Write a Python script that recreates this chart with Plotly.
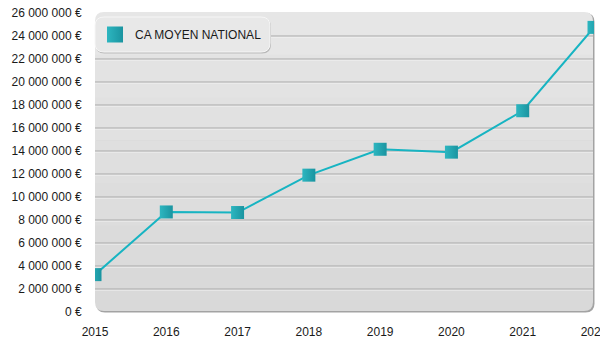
import plotly.graph_objects as go

# Average national turnover by year
years = [2015, 2016, 2017, 2018, 2019, 2020, 2021, 2022]
ca_moyen = [3_250_000, 8_700_000, 8_650_000, 11_900_000, 14_150_000, 13_900_000, 17_500_000, 24_750_000]
series_name = "CA MOYEN NATIONAL"
y_ticks = list(range(0, 26_000_001, 2_000_000))
y_tick_labels = [f"{v:,}".replace(",", " ") + " €" for v in y_ticks]
x_tick_labels = [str(y) for y in years]

W, H = 600, 350
M_L, M_R, M_T, M_B = 95, 6, 13, 38
PW, PH = W - M_L - M_R, H - M_T - M_B


def px_x(x):
    return (x - M_L) / PW


def px_y(y):
    return (H - M_B - y) / PH


def rounded_path(x0, y0, x1, y1, r, top=True, bottom=True):
    """Rounded rectangle in paper coordinates from pixel corners."""
    rt = r if top else 0
    rb = r if bottom else 0
    pts = []
    pts.append(f"M{px_x(x0 + rt)},{px_y(y0)}")
    pts.append(f"L{px_x(x1 - rt)},{px_y(y0)}")
    if rt:
        pts.append(f"Q{px_x(x1)},{px_y(y0)} {px_x(x1)},{px_y(y0 + rt)}")
    pts.append(f"L{px_x(x1)},{px_y(y1 - rb)}")
    if rb:
        pts.append(f"Q{px_x(x1)},{px_y(y1)} {px_x(x1 - rb)},{px_y(y1)}")
    pts.append(f"L{px_x(x0 + rb)},{px_y(y1)}")
    if rb:
        pts.append(f"Q{px_x(x0)},{px_y(y1)} {px_x(x0)},{px_y(y1 - rb)}")
    pts.append(f"L{px_x(x0)},{px_y(y0 + rt)}")
    if rt:
        pts.append(f"Q{px_x(x0)},{px_y(y0)} {px_x(x0 + rt)},{px_y(y0)}")
    pts.append("Z")
    return " ".join(pts)


shapes = []

# plot panel: soft shadow then a vertical grey gradient built from bands
PX0, PY0, PX1, PY1 = M_L, M_T - 1, M_L + PW - 1, H - M_B - 1
shapes.append(dict(type="path", xref="paper", yref="paper", layer="below",
                   path=rounded_path(PX0 + 1, PY0 + 1, PX1 + 1.5, PY1 + 1.5, 9),
                   fillcolor="#a3a3a3", line=dict(width=0)))
band_cols = ["#e6e6e6", "#e3e3e3", "#e1e1e1", "#dfdfdf", "#dddddd", "#dbdbdb", "#d9d9d9"]
nb = len(band_cols)
bh = (PY1 - PY0) / nb
for i, c in enumerate(band_cols):
    y0 = PY0 + i * bh
    y1 = PY0 + (i + 1) * bh + (0.6 if i < nb - 1 else 0)
    shapes.append(dict(type="path", xref="paper", yref="paper", layer="below",
                       path=rounded_path(PX0, y0, PX1, y1, 9, top=(i == 0), bottom=(i == nb - 1)),
                       fillcolor=c, line=dict(width=0)))

# embossed grid lines (grey line with a light line beneath)
for v in y_ticks[1:-1]:
    shapes.append(dict(type="line", xref="paper", x0=0, x1=px_x(PX1),
                       yref="y", ysizemode="pixel", yanchor=v, y0=-1, y1=-1,
                       line=dict(color="#f4f4f4", width=1), layer="below"))
    shapes.append(dict(type="line", xref="paper", x0=0, x1=px_x(PX1),
                       yref="y", y0=v, y1=v,
                       line=dict(color="#a9a9a9", width=1), layer="below"))

# legend panel
LX0, LY0, LX1, LY1 = 95, 17, 270, 52
shapes.append(dict(type="path", xref="paper", yref="paper", layer="above",
                   path=rounded_path(LX0 + 0.5, LY0 + 1, LX1 + 1, LY1 + 1.5, 9),
                   fillcolor="#b9b9b9", line=dict(width=0)))
shapes.append(dict(type="path", xref="paper", yref="paper", layer="above",
                   path=rounded_path(LX0, LY0, LX1, LY1, 9),
                   fillcolor="#e8e8e8", line=dict(color="#f6f6f6", width=1)))

fig = go.Figure()
fig.add_trace(go.Scatter(
    x=years, y=ca_moyen, mode="lines+markers", name=series_name, showlegend=False,
    line=dict(color="#17b4c2", width=2),
    marker=dict(symbol="square", size=13, color="#2db6c0",
                gradient=dict(type="horizontal", color="#1a94a0"),
                line=dict(width=0)),
))
fig.add_trace(go.Scatter(
    x=[None], y=[None], mode="markers", name=series_name, showlegend=True,
    marker=dict(symbol="square", size=20, color="#2db6c0",
                gradient=dict(type="horizontal", color="#1a94a0"),
                line=dict(width=0)),
))

font_main = dict(family="Liberation Sans, Arial, sans-serif", size=12, color="#1a1a1a")

fig.update_layout(
    width=W, height=H,
    margin=dict(l=M_L, r=M_R, t=M_T, b=M_B, pad=0, autoexpand=False),
    paper_bgcolor="white", plot_bgcolor="rgba(0,0,0,0)",
    font=font_main,
    shapes=shapes,
    showlegend=True,
    legend=dict(x=0, xanchor="left", y=px_y((LY0 + LY1) / 2), yanchor="middle",
                bgcolor="rgba(0,0,0,0)", borderwidth=0, itemsizing="trace",
                font=dict(family="Liberation Sans, Arial, sans-serif", size=12, color="#1a1a1a")),
    xaxis=dict(range=[years[0], years[-1]], tickmode="array", tickvals=years, ticktext=x_tick_labels,
               showgrid=False, zeroline=False, showline=False, automargin=False,
               ticks="outside", ticklen=9, tickcolor="rgba(0,0,0,0)",
               ticklabeloverflow="allow", tickfont=font_main, fixedrange=True),
    yaxis=dict(range=[0, 26_000_000], tickmode="array", tickvals=y_ticks, ticktext=y_tick_labels,
               showgrid=False, zeroline=False, showline=False, automargin=False,
               ticks="outside", ticklen=10, tickcolor="rgba(0,0,0,0)",
               ticklabeloverflow="allow", tickfont=font_main, fixedrange=True),
)

fig.write_html("out.html", config={"displayModeBar": False})
